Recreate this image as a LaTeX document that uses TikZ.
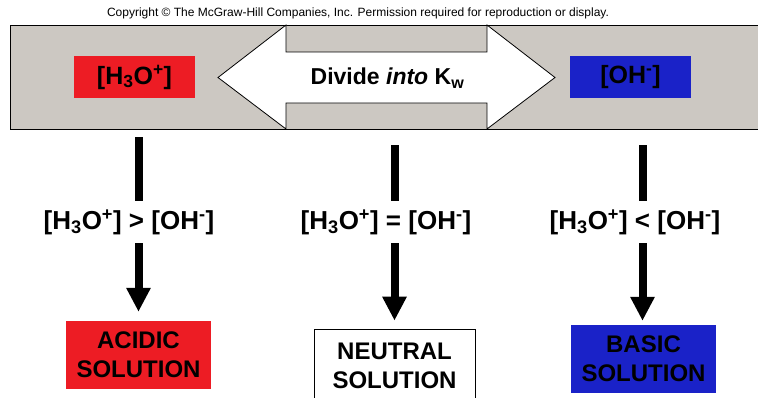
\documentclass[tikz,border=0pt]{standalone}
\usepackage{fontspec}
\setmainfont{Liberation Sans}
\usetikzlibrary{arrows.meta}
\definecolor{bandgray}{RGB}{204,200,194}
\definecolor{acidred}{RGB}{237,28,36}
\definecolor{baseblue}{RGB}{26,34,200}
\newcommand{\hyd}{[H\textsubscript{3}O\textsuperscript{+}]}
\newcommand{\hydrox}{[OH\textsuperscript{-}]}
\begin{document}
\begin{tikzpicture}[x=1pt,y=-1pt,
  ionbox/.style={inner sep=0pt, minimum width=121pt, minimum height=42pt,
    font=\fontsize{25}{28}\selectfont\bfseries},
  relation/.style={inner sep=0pt, minimum height=42pt,
    font=\fontsize{26}{29}\selectfont\bfseries},
  outcome/.style={inner sep=0pt, minimum width=145pt, minimum height=68pt,
    align=center, font=\fontsize{24}{29}\selectfont\bfseries},
  bar/.style={line width=8pt},
  downarrow/.style={line width=8pt, -{Triangle[width=23pt,length=24pt]},
    shorten >=9pt}
]
\useasboundingbox (0,0) rectangle (758,397);

% credit line
\node[font=\fontsize{12}{14}\selectfont] (credit) at (358,13)
  {Copyright \textcopyright{} The McGraw-Hill Companies, Inc. Permission required for reproduction or display.};

% grey band
\draw[fill=bandgray, line width=0.8pt] (775,25) -- (10,25) -- (10,129) -- (775,129);

% double-headed arrow
\draw[fill=white, line width=0.8pt]
  (218,77.5) -- (286,25) -- (286,52) -- (487,52) -- (487,25) -- (555,77.5)
  -- (487,129) -- (487,103) -- (286,103) -- (286,129) -- cycle;
\node[font=\fontsize{23}{26}\selectfont\bfseries] (kw) at (387.5,78)
  {Divide \textit{into} K\textsubscript{w}};

% concentration boxes
\node[ionbox, fill=acidred] (hplus) at (134.5,77) {\hyd};
\node[ionbox, fill=baseblue] (ohminus) at (630.5,77) {\hydrox};

% relations
\node[relation] (f1) at (129,222) {\hyd{} > \hydrox};
\node[relation] (f2) at (386,222) {\hyd{} = \hydrox};
\node[relation] (f3) at (635,222) {\hyd{} < \hydrox};

% outcomes
\node[outcome, fill=acidred] (b1) at (138.5,355) {ACIDIC\\SOLUTION};
\node[outcome, draw, line width=0.8pt, minimum width=161pt, minimum height=74pt] (b2) at (394.5,366) {NEUTRAL\\SOLUTION};
\node[outcome, fill=baseblue] (b3) at (643.5,359) {BASIC\\SOLUTION};

% connectors
\coordinate (a1) at (138.5,137);
\coordinate (a2) at (394.5,145);
\coordinate (a3) at (642.5,145);
\draw[bar] (a1) -- (a1 |- f1.north);
\draw[bar] (a2) -- (a2 |- f2.north);
\draw[bar] (a3) -- (a3 |- f3.north);
\draw[downarrow] (a1 |- f1.south) -- (a1 |- b1.north);
\draw[downarrow, shorten >=8pt] (a2 |- f2.south) -- (a2 |- b2.north);
\draw[downarrow, shorten >=4pt] (a3 |- f3.south) -- (a3 |- b3.north);
\end{tikzpicture}
\end{document}
